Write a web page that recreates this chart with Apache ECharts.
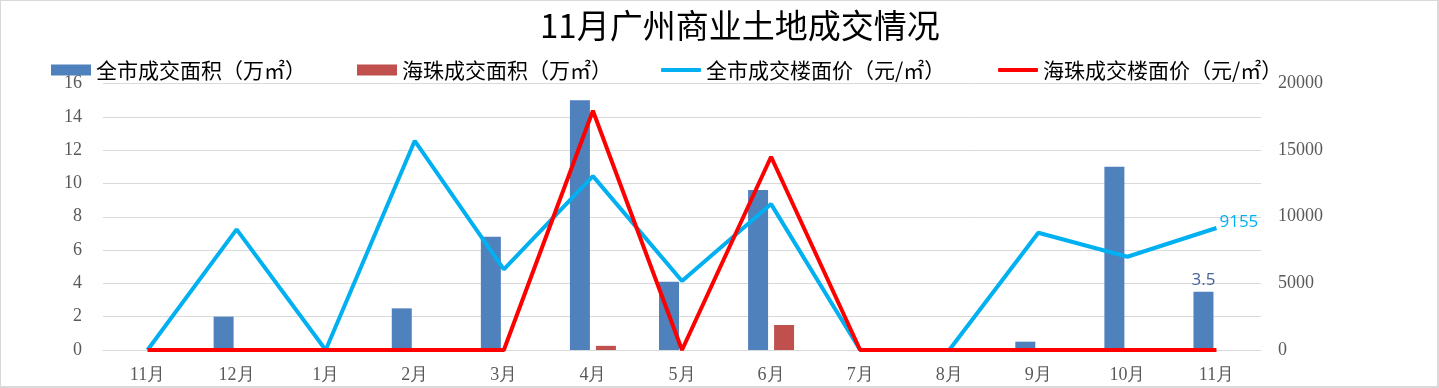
<!DOCTYPE html>
<html><head><meta charset="utf-8">
<script src="https://cdn.jsdelivr.net/npm/echarts@6/dist/echarts.min.js"></script>
<style>
html,body{margin:0;padding:0;background:#fff}
#c{width:1439px;height:388px;position:absolute;left:0;top:0}
#b{position:absolute;left:0;top:0;width:1439px;height:388px;box-sizing:border-box;border:1px solid #d9d9d9;border-right:2px solid #d9d9d9;border-bottom:2px solid #d9d9d9;pointer-events:none}
</style>
</head><body><div id="c"></div><div id="b"></div>
<script>
const categories = ['11月','12月','1月','2月','3月','4月','5月','6月','7月','8月','9月','10月','11月'];
const cityArea = [0, 2, 0, 2.5, 6.8, 15, 4.1, 9.6, 0, 0, 0.5, 11, 3.5];
const haizhuArea = [0, 0, 0, 0, 0, 0.25, 0, 1.5, 0, 0, 0, 0, 0];
const cityPrice = [0, 9050, 0, 15700, 6050, 13050, 5180, 10950, 0, 0, 8800, 7000, 9155];
const haizhuPrice = [0, 0, 0, 0, 0, 17950, 0, 14500, 0, 0, 0, 0, 0];
const seriesNames = ['全市成交面积（万㎡）','海珠成交面积（万㎡）','全市成交楼面价（元/㎡）','海珠成交楼面价（元/㎡）'];
const titleText = '11月广州商业土地成交情况';

const lastIdx = categories.length - 1;
const axisFont = {color:'#595959', fontSize:18, fontFamily:'Liberation Serif'};
const legendText = {color:'#000', fontSize:21, fontFamily:'Noto Sans CJK SC', lineHeight:22};

const chart = echarts.init(document.getElementById('c'));
chart.setOption({
  animation:false,
  backgroundColor:'#fff',
  title:{text:titleText, left:535, top:4, textStyle:{fontSize:33, fontWeight:'normal', color:'#000', fontFamily:'Noto Sans CJK SC'}},
  legend:[
    {data:[seriesNames[0]], left:46, top:54, icon:'rect', itemWidth:40, itemHeight:11, itemGap:0, textStyle:legendText},
    {data:[seriesNames[1]], left:352, top:54, icon:'rect', itemWidth:40, itemHeight:11, itemGap:0, textStyle:legendText},
    {data:[seriesNames[2]], left:656, top:54, icon:'roundRect', itemWidth:40, itemHeight:4, itemGap:0, textStyle:legendText},
    {data:[seriesNames[3]], left:993, top:54, icon:'roundRect', itemWidth:40, itemHeight:4, itemGap:0, textStyle:legendText}
  ],
  grid:{left:103, right:178, top:83.5, bottom:38, containLabel:false},
  xAxis:{type:'category', data:categories, boundaryGap:true,
    axisLine:{lineStyle:{color:'#d9d9d9', width:1}}, axisTick:{show:false},
    axisLabel:Object.assign({margin:16, interval:0}, axisFont)},
  yAxis:[
    {type:'value', min:0, max:16, interval:2, axisLine:{show:false}, axisTick:{show:false},
     splitLine:{lineStyle:{color:'#d9d9d9', width:1}}, axisLabel:Object.assign({margin:21}, axisFont)},
    {type:'value', min:0, max:20000, interval:5000, position:'right', axisLine:{show:false}, axisTick:{show:false},
     splitLine:{show:false}, axisLabel:Object.assign({margin:17, formatter:(v)=>String(v)}, axisFont)}
  ],
  series:[
    {name:seriesNames[0], type:'bar', yAxisIndex:0, barWidth:20, barGap:'30%', itemStyle:{color:'#4F81BD'},
     data:cityArea.map((v,i)=> i===lastIdx ? {value:v, label:{show:true, position:'top', distance:3, color:'#44639A', fontSize:17, fontFamily:'Open Sans'}} : v)},
    {name:seriesNames[1], type:'bar', yAxisIndex:0, barWidth:20, itemStyle:{color:'#C0504D'}, data:haizhuArea},
    {name:seriesNames[2], type:'line', yAxisIndex:1, symbol:'none', lineStyle:{color:'#00B0F0', width:4}, itemStyle:{color:'#00B0F0'},
     endLabel:{show:true, formatter:(p)=>String(p.value), color:'#00B0F0', fontSize:17, fontFamily:'Open Sans', distance:3, offset:[0,-6]},
     data:cityPrice},
    {name:seriesNames[3], type:'line', yAxisIndex:1, symbol:'none', lineStyle:{color:'#FF0000', width:4}, itemStyle:{color:'#FF0000'}, z:3, data:haizhuPrice}
  ]
});
</script>
</body></html>
